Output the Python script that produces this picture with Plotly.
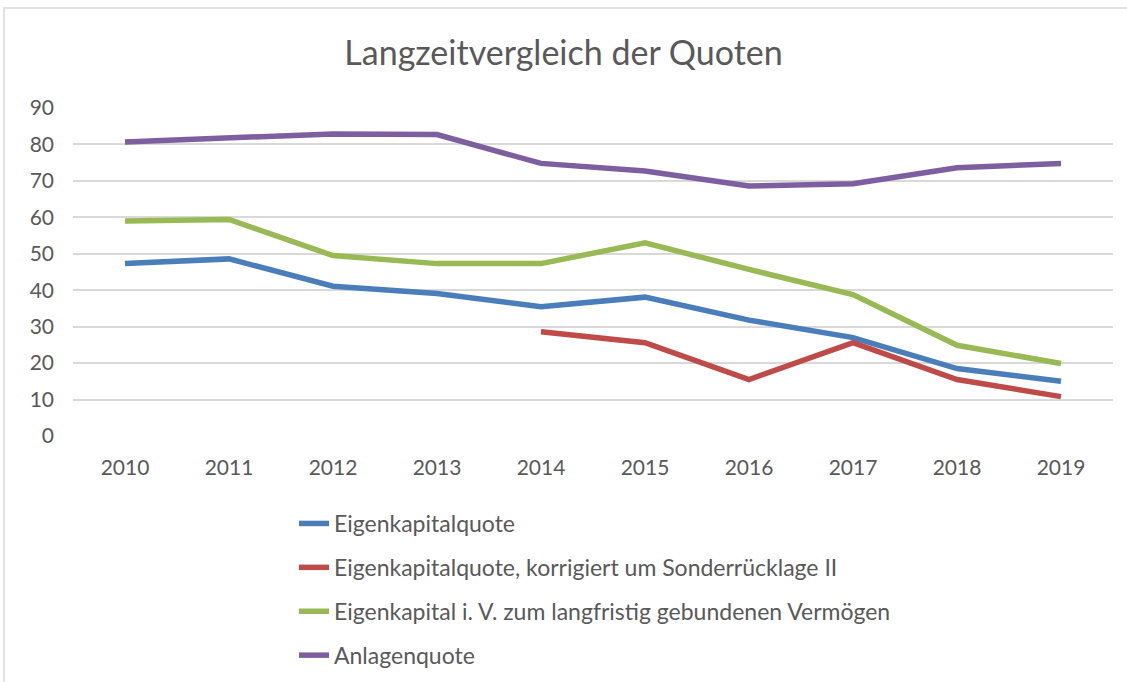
import plotly.graph_objects as go

years = ["2010", "2011", "2012", "2013", "2014", "2015", "2016", "2017", "2018", "2019"]
eigenkapitalquote = [47.3, 48.6, 41.1, 39.1, 35.5, 38.1, 31.8, 27.0, 18.5, 15.0]
eigenkapital_korrigiert = [None, None, None, None, 28.6, 25.6, 15.5, 25.6, 15.5, 10.8]
eigenkapital_iv = [59.0, 59.4, 49.5, 47.3, 47.3, 53.0, 45.7, 38.8, 24.9, 19.9]
anlagenquote = [80.7, 81.8, 82.9, 82.7, 74.8, 72.7, 68.6, 69.2, 73.6, 74.8]

series = [
    ("Eigenkapitalquote", eigenkapitalquote, "#4a7ebb"),
    ("Eigenkapitalquote, korrigiert um Sonderrücklage II", eigenkapital_korrigiert, "#be4b48"),
    ("Eigenkapital i. V. zum langfristig gebundenen Vermögen", eigenkapital_iv, "#98b954"),
    ("Anlagenquote", anlagenquote, "#7d5fa0"),
]

FONT = "Lato, Carlito, Calibri, sans-serif"
TXT = "#595959"

fig = go.Figure()
for i, (name, vals, col) in enumerate(series):
    fig.add_trace(go.Scatter(
        x=years, y=vals, name=name, mode="lines",
        line=dict(color=col, width=5.5),
        connectgaps=False, legendgroup=f"g{i}",
    ))

W, H = 1127, 682
L, R, T, B = 73, 14, 108, 246
pw, ph = W - L - R, H - T - B

fig.update_layout(
    width=W, height=H,
    margin=dict(l=L, r=R, t=T, b=B, autoexpand=False),
    paper_bgcolor="white", plot_bgcolor="white",
    title=dict(text="Langzeitvergleich der Quoten", x=0.5, xanchor="center",
               y=1 - 53 / H, yanchor="middle",
               font=dict(family=FONT, size=34, color=TXT)),
    font=dict(family=FONT, size=21, color=TXT),
    xaxis=dict(type="category", range=[-0.5, 9.5], showgrid=False, showline=False,
               ticks="", tickfont=dict(size=21, color=TXT), ticklabelstandoff=17, zeroline=False),
    yaxis=dict(range=[0, 90], dtick=10, showgrid=True, gridcolor="#d9d9d9", gridwidth=1.5,
               zeroline=False, showline=False, ticks="",
               tickfont=dict(size=21, color=TXT), ticklabelstandoff=18),
    legend=dict(orientation="v", x=(294 - L) / pw, xanchor="left",
                y=(436 - 502) / ph, yanchor="top",
                font=dict(family=FONT, size=23, color=TXT),
                tracegroupgap=11, bgcolor="rgba(0,0,0,0)"),
    showlegend=True,
)

# outer chart frame
fig.add_shape(type="rect", xref="paper", yref="paper",
              x0=(4 - L) / pw, x1=(W + 5 - L) / pw,
              y0=(436 - (H + 5)) / ph, y1=(436 - 8) / ph,
              line=dict(color="#d9d9d9", width=1.5), layer="below")

fig.write_html("out.html", config={"displayModeBar": False},
               post_script="document.body.style.margin='0';document.body.style.padding='0';")
